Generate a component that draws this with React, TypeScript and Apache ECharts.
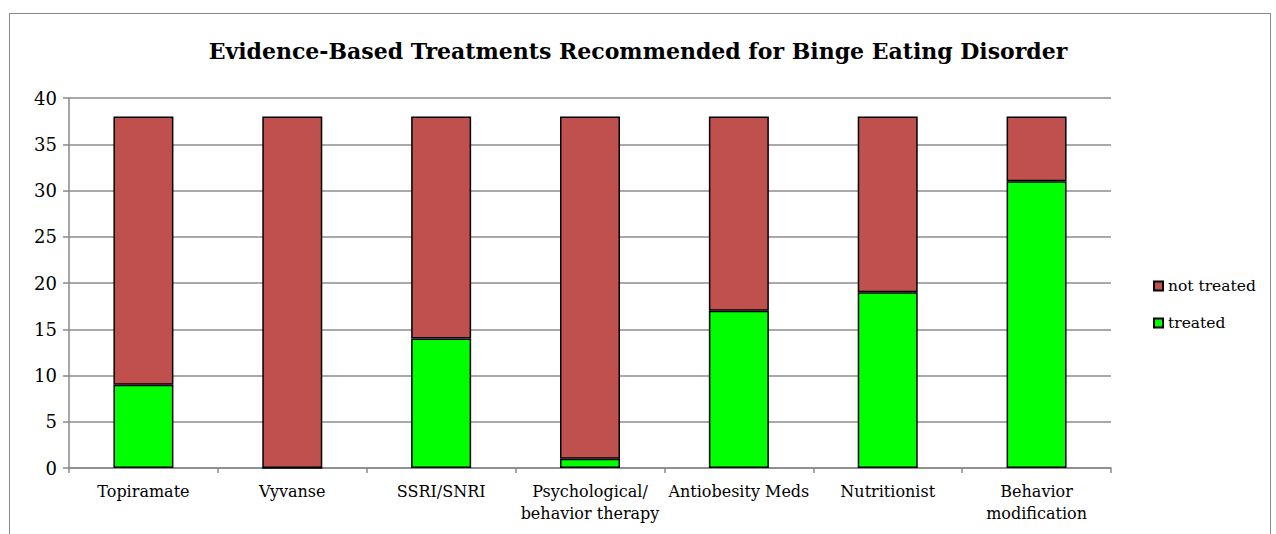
import React, { useEffect, useRef } from "react";
import * as echarts from "echarts";

const categories = [
  "Topiramate",
  "Vyvanse",
  "SSRI/SNRI",
  "Psychological/\nbehavior therapy",
  "Antiobesity Meds",
  "Nutritionist",
  "Behavior\nmodification",
];
const treated = [9, 0, 14, 1, 17, 19, 31];
const notTreated = [29, 38, 24, 37, 21, 19, 7];
const legendNames = ["not treated", "treated"];
const yTicks = { min: 0, max: 40, interval: 5 };

const FONT = "DejaVu Serif";

export default function App() {
  const ref = useRef<HTMLDivElement>(null);
  useEffect(() => {
    document.body.style.margin = "0";
    const chart = echarts.init(ref.current!, undefined, { renderer: "svg" });
    const legendText = {
      fontFamily: FONT,
      fontSize: 15.5,
      color: "#000",
      rich: { s: { fontFamily: FONT, fontSize: 15.5, color: "#000" } },
    };
    chart.setOption({
      animation: false,
      backgroundColor: "#ffffff",
      textStyle: { fontFamily: FONT },
      title: {
        text: "Evidence-Based Treatments Recommended for Binge Eating Disorder",
        left: "center",
        top: 35,
        textStyle: { fontFamily: FONT, fontSize: 22, fontWeight: "bold", color: "#000" },
      },
      graphic: [
        {
          type: "rect",
          shape: { x: 9.5, y: 13.5, width: 1261, height: 560 },
          style: { fill: "none", stroke: "#888", lineWidth: 1 },
          silent: true,
        },
      ],
      legend: {
        orient: "vertical",
        left: 1148,
        top: 273,
        itemWidth: 9,
        itemHeight: 9,
        itemGap: 21,
        icon: "rect",
        data: legendNames,
        formatter: "{s|{name}}",
        textStyle: legendText,
      },
      grid: { left: 69, right: 165, top: 98, bottom: 66 },
      xAxis: {
        type: "category",
        data: categories,
        axisLine: { lineStyle: { color: "#888", width: 1.5 } },
        axisTick: { show: true, length: 5, lineStyle: { color: "#888", width: 1.5 } },
        axisLabel: {
          fontFamily: FONT,
          fontSize: 16,
          color: "#000",
          margin: 12,
          lineHeight: 22,
          interval: 0,
        },
      },
      yAxis: {
        type: "value",
        min: yTicks.min,
        max: yTicks.max,
        interval: yTicks.interval,
        axisLine: { show: true, lineStyle: { color: "#888", width: 1.5 } },
        axisTick: { show: true, length: 6, lineStyle: { color: "#888", width: 1.5 } },
        splitLine: { lineStyle: { color: "#8c8c8c", width: 1.5 } },
        axisLabel: { fontFamily: FONT, fontSize: 18, color: "#000", margin: 12 },
      },
      series: [
        {
          name: "treated",
          type: "bar",
          stack: "total",
          data: treated,
          barWidth: 60,
          itemStyle: { color: "#00ff00", borderColor: "#000", borderWidth: 1.5 },
        },
        {
          name: "not treated",
          type: "bar",
          stack: "total",
          data: notTreated,
          barWidth: 60,
          itemStyle: { color: "#c0504d", borderColor: "#000", borderWidth: 1.5 },
        },
      ],
    });
    return () => chart.dispose();
  }, []);
  return (
    <div
      ref={ref}
      style={{ position: "absolute", left: 0, top: 0, width: 1276, height: 534 }}
    />
  );
}
